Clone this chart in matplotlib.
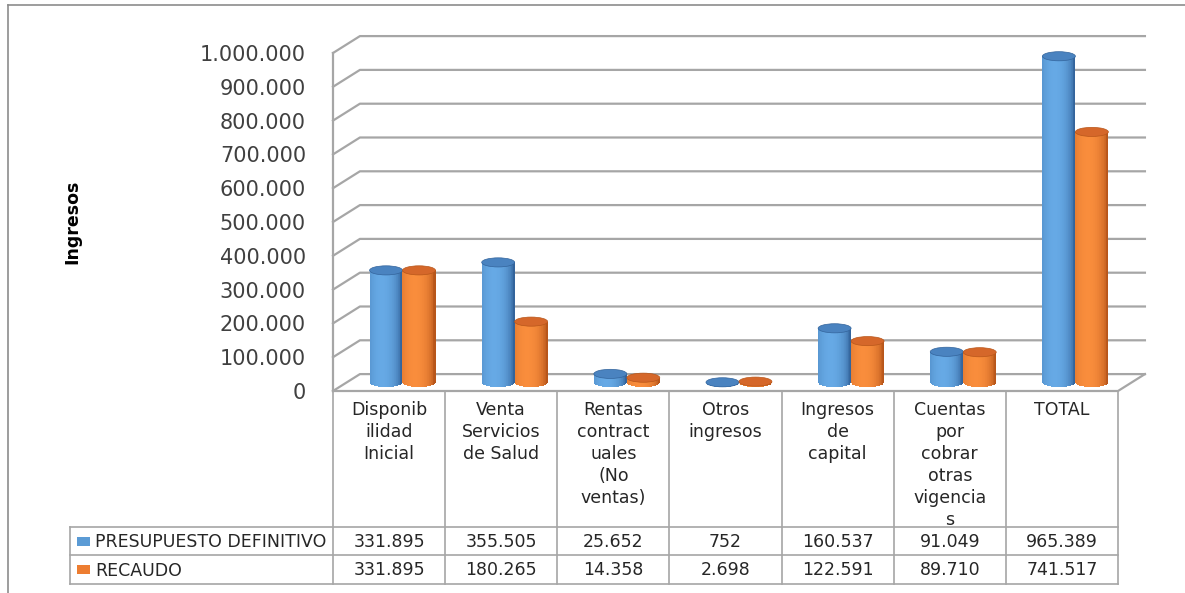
import numpy as np
import matplotlib.pyplot as plt
from matplotlib.patches import Ellipse, Rectangle
from matplotlib.lines import Line2D
from matplotlib.colors import to_rgb

plt.rcParams['font.family'] = ['DejaVu Sans']

# datos de ingresos (en miles)
categorias = ["Disponib\nilidad\nInicial", "Venta\nServicios\nde Salud",
              "Rentas\ncontract\nuales\n(No\nventas)", "Otros\ningresos",
              "Ingresos\nde\ncapital", "Cuentas\npor\ncobrar\notras\nvigencia\ns",
              "TOTAL"]
series = ["PRESUPUESTO DEFINITIVO", "RECAUDO"]
presupuesto = [331895, 355505, 25652, 752, 160537, 91049, 965389]
recaudo = [331895, 180265, 14358, 2698, 122591, 89710, 741517]
ticks_y = [0, 100000, 200000, 300000, 400000, 500000,
           600000, 700000, 800000, 900000, 1000000]

# colores de cada serie: (oscuro, claro, tapa, leyenda)
colores = [("#33649c", "#66a9e5", "#4a83c0", "#5b9bd5"),
           ("#b8561a", "#f98d3c", "#d5672a", "#ed7d31")]

W, H = 1185, 593
fig = plt.figure(figsize=(W / 100, H / 100), dpi=100)


def fmt(v):
    return f"{v:,}".replace(",", ".")


# plano frontal del grafico
ax = fig.add_axes([333 / W, 1 - 391 / H, 785 / W, 338 / H])
ax.set_xlim(-0.5, 6.5)
ax.set_ylim(0, 1000000)
for s in ax.spines.values():
    s.set_visible(False)
ax.set_xticks([])
ax.set_yticks(ticks_y)
ax.set_yticklabels([fmt(t) for t in ticks_y], fontsize=15, color="#404040")
ax.tick_params(axis="y", length=0, pad=19.5)
ax.set_ylabel("Ingresos", fontsize=12.5, fontweight="bold", color="#000000")
ax.yaxis.set_label_coords(-0.32, 0.5)
ax.patch.set_visible(False)

# profundidad del efecto 3D (en unidades de datos)
DX, DY = 0.24, 50000
gris = "#a6a6a6"

for t in ticks_y:
    ax.plot([-0.5, -0.5 + DX, 6.5 + DX], [t, t + DY, t + DY],
            color=gris, lw=1.6, clip_on=False, zorder=1)
ax.plot([-0.5, -0.5], [0, 1000000], color=gris, lw=1.6, clip_on=False, zorder=1)
ax.plot([-0.5, 6.5, 6.5 + DX], [0, 0, DY], color=gris, lw=1.6, clip_on=False, zorder=1)

ancho = 0.294
ell_h = 27000
N = 48


def cilindro(xc, valor, oscuro, claro, tapa):
    y0 = DY / 2
    u = (np.arange(N) + 0.5) / N * 2 - 1
    xs = xc + u * ancho / 2
    f = np.clip(1 - ((u + 0.25) / 1.15) ** 2, 0, 1) ** 0.6
    c0, c1 = np.array(to_rgb(oscuro)), np.array(to_rgb(claro))
    cols = [tuple((1 - fi) * c0 + fi * c1) for fi in f]
    curva = ell_h / 2 * np.sqrt(1 - u ** 2)
    ax.bar(xs, valor + curva, width=ancho / N * 1.1, bottom=y0 - curva,
           color=cols, linewidth=0, zorder=3, clip_on=False)
    ax.add_patch(Ellipse((xc, y0 + valor), ancho, ell_h, facecolor=tapa,
                         edgecolor=oscuro, lw=0.5, zorder=4, clip_on=False))


for i in range(len(categorias)):
    base = i + DX / 2
    for j, vals in enumerate([presupuesto, recaudo]):
        xc = base + (j - 0.5) * ancho
        cilindro(xc, vals[i], *colores[j][:3])

# tabla de datos debajo del grafico
cat_px = 785 / 7
tax = fig.add_axes([70 / W, 1 - 584 / H, 1048 / W, 192 / H])
x_izq = -0.5 - (333 - 70) / cat_px
tax.set_xlim(x_izq, 6.5)
tax.set_ylim(192, 0)
tax.axis("off")

lt = dict(color=gris, lw=1.2, clip_on=False)
for k in range(len(categorias) + 1):
    tax.plot([k - 0.5, k - 0.5], [0, 192], **lt)
tax.plot([x_izq, x_izq], [135, 192], **lt)
for y in (135, 163, 192):
    tax.plot([x_izq, 6.5], [y, y], **lt)

for i, cat in enumerate(categorias):
    tax.text(i, 9, cat, ha="center", va="top", fontsize=12.5,
             linespacing=1.28, color="#262626")
    tax.text(i, 150, fmt(presupuesto[i]), ha="center", va="center",
             fontsize=12.5, color="#262626")
    tax.text(i, 178, fmt(recaudo[i]), ha="center", va="center",
             fontsize=12.5, color="#262626")

for j, (nombre, yc) in enumerate(zip(series, (149, 177.5))):
    tax.add_patch(Rectangle((x_izq + 7 / cat_px, yc - 4.5), 13 / cat_px, 9,
                            facecolor=colores[j][3], edgecolor="none"))
    tax.text(x_izq + 25 / cat_px, yc + 1, nombre, ha="left", va="center",
             fontsize=12.5, color="#262626")

# marco exterior
fig.add_artist(Line2D([8 / W, 8 / W], [0, 1 - 5 / H], color="#8c8c8c", lw=1.2))
fig.add_artist(Line2D([8 / W, 1], [1 - 5 / H, 1 - 5 / H], color="#8c8c8c", lw=1.2))

fig.savefig("out.png", dpi=100)
